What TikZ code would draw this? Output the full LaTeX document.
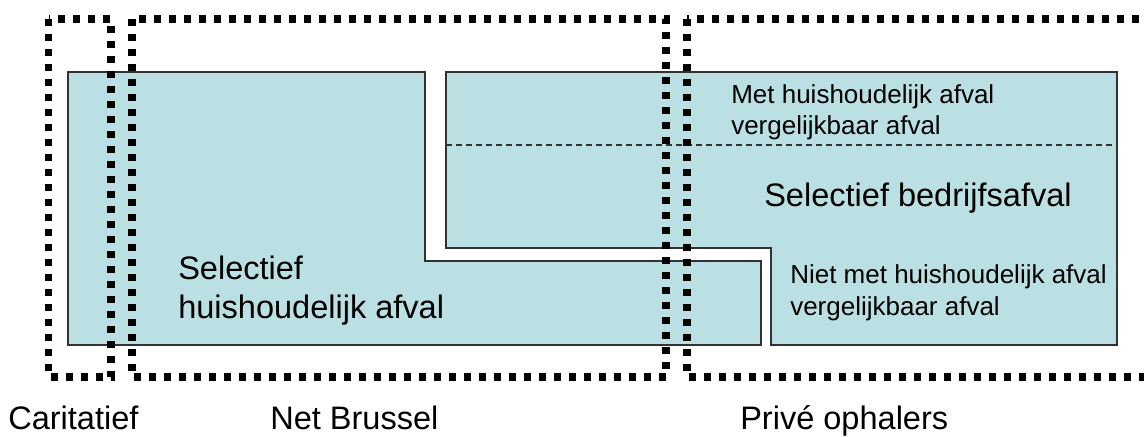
\documentclass[tikz,border=0pt]{standalone}
\usepackage{fontspec}
\setmainfont{Liberation Sans}
\definecolor{boxfill}{RGB}{187,224,227}
\definecolor{boxline}{RGB}{50,50,50}
\begin{document}
\begin{tikzpicture}[x=0.75pt,y=-0.75pt,
  area/.style={fill=boxfill,draw=boxline,line width=1.1pt},
  zone/.style={draw=black,line width=5.6pt,dash pattern=on 5.25pt off 6pt},
  sepline/.style={draw=boxline,line width=0.9pt,dash pattern=on 4.5pt off 3pt},
  bigtxt/.style={font=\fontsize{24.4}{29}\selectfont,inner sep=0pt,anchor=base west},
  smalltxt/.style={font=\fontsize{19.5}{23}\selectfont,inner sep=0pt,anchor=base west}]
\useasboundingbox (0,0) rectangle (1144,436);
\clip (0,0) rectangle (1144,436);
% filled areas
\draw[area] (68,72) -- (425,72) -- (425,261) -- (761,261) -- (761,345) -- (68,345) -- cycle;
\draw[area] (446,72) -- (1117,72) -- (1117,345) -- (771,345) -- (771,248) -- (446,248) -- cycle;
\draw[sepline] (446,145) -- (1117,145);
% texts in areas
\node[smalltxt] (met1) at (731,103) {Met huishoudelijk afval};
\node[smalltxt] (met2) at (731,134) {vergelijkbaar afval};
\node[bigtxt] (bedr) at (764,206) {Selectief bedrijfsafval};
\node[smalltxt] (niet1) at (790,283) {Niet met huishoudelijk afval};
\node[smalltxt] (niet2) at (790,315) {vergelijkbaar afval};
\node[bigtxt] (hh1) at (178,279) {Selectief};
\node[bigtxt] (hh2) at (178,318) {huishoudelijk afval};
% dotted zones
\draw[zone] (48.5,19) rectangle (111,377);
\draw[zone] (132,19) rectangle (666,377);
\draw[zone] (687,19) rectangle (1170,377);
% zone labels
\node[bigtxt] (car) at (8,429.5) {Caritatief};
\node[bigtxt] (net) at (270,429.5) {Net Brussel};
\node[bigtxt] (priv) at (740,429) {Privé ophalers};
\end{tikzpicture}
\end{document}
